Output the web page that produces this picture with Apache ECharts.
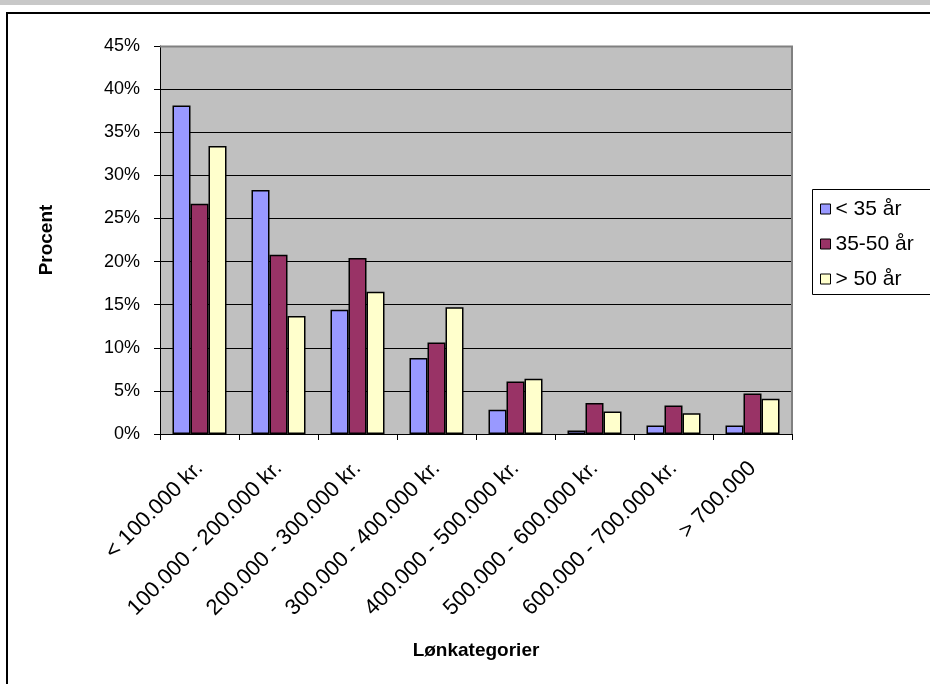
<!DOCTYPE html>
<html>
<head>
<meta charset="utf-8">
<script src="https://cdn.jsdelivr.net/npm/echarts@6/dist/echarts.min.js"></script>
<style>
  html, body { margin: 0; padding: 0; background: #fff; }
  #chart { width: 930px; height: 684px; }
</style>
</head>
<body>
<div id="chart"></div>
<script>
// Salary brackets (DKK) and share of each age group, in percent
const categories = [
  '< 100.000 kr.',
  '100.000 - 200.000 kr.',
  '200.000 - 300.000 kr.',
  '300.000 - 400.000 kr.',
  '400.000 - 500.000 kr.',
  '500.000 - 600.000 kr.',
  '600.000 - 700.000 kr.',
  '> 700.000'
];
const seriesNames = ['< 35 år', '35-50 år', '> 50 år'];
const under35 = [38.1, 28.3, 14.4, 8.8, 2.8, 0.4, 1.0, 1.0];
const age35to50 = [26.7, 20.8, 20.4, 10.6, 6.1, 3.6, 3.3, 4.7];
const over50 = [33.4, 13.7, 16.5, 14.7, 6.4, 2.6, 2.4, 4.1];
const yTicks = { min: 0, max: 45, interval: 5 };

const colors = ['#9999FF', '#993366', '#FFFFCC'];
const font = 'Liberation Sans, Arial, sans-serif';

const chart = echarts.init(document.getElementById('chart'), null, { renderer: 'canvas' });

function barSeries(name, data, color) {
  return {
    name: name,
    type: 'bar',
    data: data,
    barWidth: 18,
    barGap: '0%',
    itemStyle: { color: color, borderColor: '#000', borderWidth: 1.5 }
  };
}

chart.setOption({
  animation: false,
  backgroundColor: '#fff',
  textStyle: { fontFamily: font },
  graphic: [
    // strip above the chart frame
    { type: 'rect', shape: { x: 0, y: 0, width: 930, height: 5 }, style: { fill: '#C8C8C8' }, silent: true },
    // chart frame
    { type: 'rect', shape: { x: 7, y: 13, width: 1000, height: 800 }, style: { fill: 'none', stroke: '#000', lineWidth: 2 }, silent: true, z: 100 },
    // plot-area border (top and right)
    { type: 'polyline', shape: { points: [[160, 46.5], [792, 46.5], [792, 434]] }, style: { stroke: '#808080', lineWidth: 2, fill: 'none' }, silent: true, z: 5 },
    // legend box
    { type: 'rect', shape: { x: 812.5, y: 189.5, width: 200, height: 105 }, style: { fill: '#fff', stroke: '#000', lineWidth: 1 }, silent: true, z: 0 }
  ],
  legend: {
    orient: 'vertical',
    left: 815,
    top: 192,
    itemWidth: 10,
    itemHeight: 10,
    itemGap: 11,
    icon: 'rect',
    itemStyle: { borderColor: '#000', borderWidth: 1 },
    textStyle: { fontFamily: font, fontSize: 21, color: '#000', lineHeight: 24 },
    data: seriesNames
  },
  grid: {
    left: 160, top: 46, right: 138, bottom: 250,
    show: true, backgroundColor: '#C0C0C0', borderWidth: 0
  },
  xAxis: {
    type: 'category',
    data: categories,
    name: 'Lønkategorier',
    nameLocation: 'middle',
    nameGap: 207,
    nameTextStyle: { fontFamily: font, fontWeight: 'bold', fontSize: 19, color: '#000' },
    axisLine: { lineStyle: { color: '#000', width: 1 } },
    axisTick: { show: true, length: 6, lineStyle: { color: '#000' } },
    axisLabel: { rotate: 45, interval: 0, margin: 31, fontFamily: font, fontSize: 22, color: '#000' }
  },
  yAxis: {
    type: 'value',
    min: yTicks.min, max: yTicks.max, interval: yTicks.interval,
    name: 'Procent',
    nameLocation: 'middle',
    nameGap: 104,
    nameTextStyle: { fontFamily: font, fontWeight: 'bold', fontSize: 19, color: '#000' },
    axisLine: { show: true, lineStyle: { color: '#000', width: 1 } },
    axisTick: { show: true, length: 6, lineStyle: { color: '#000' } },
    axisLabel: { margin: 20, fontFamily: font, fontSize: 18, color: '#000', formatter: '{value}%' },
    splitLine: { show: true, lineStyle: { color: '#000', width: 1 } }
  },
  series: [
    barSeries(seriesNames[0], under35, colors[0]),
    barSeries(seriesNames[1], age35to50, colors[1]),
    barSeries(seriesNames[2], over50, colors[2])
  ]
});
</script>
</body>
</html>
